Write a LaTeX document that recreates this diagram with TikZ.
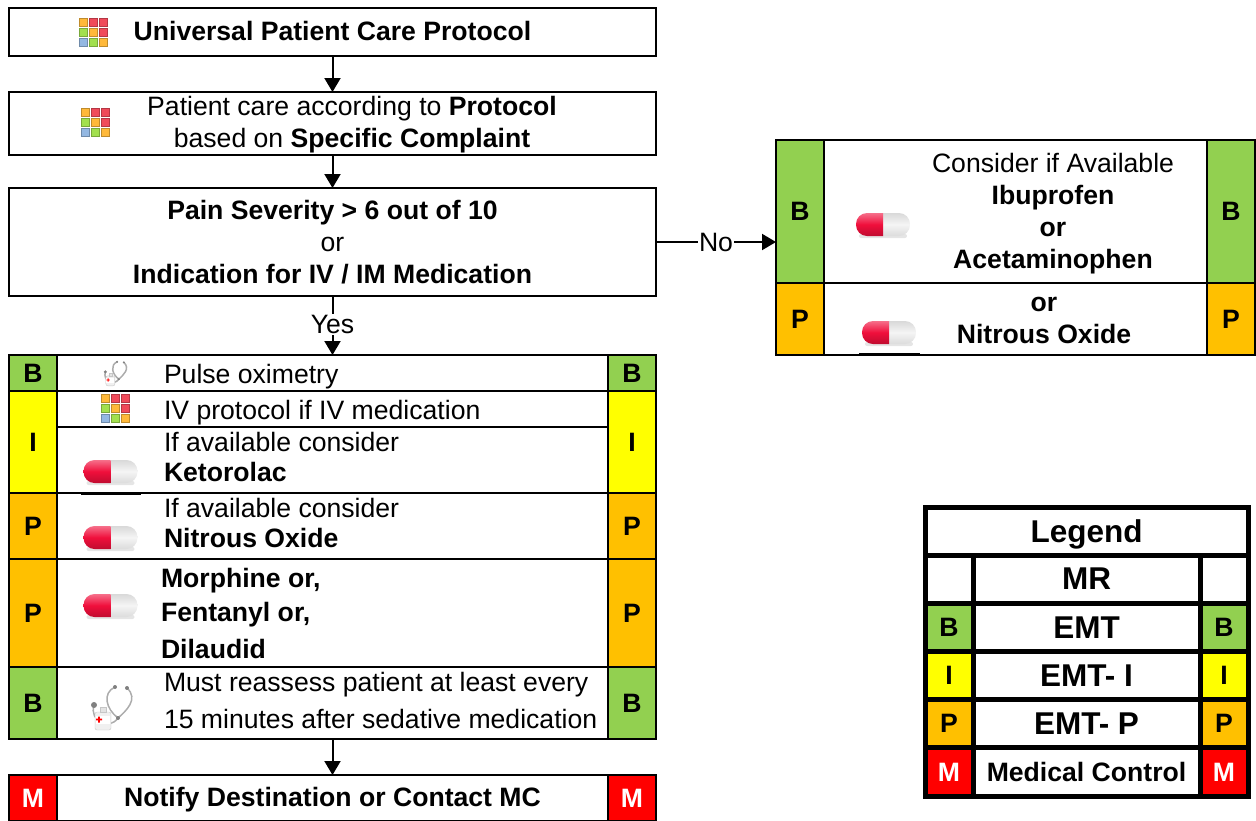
\documentclass[tikz,border=0pt]{standalone}
\usepackage{fontspec}
\setmainfont{Liberation Sans}
\usetikzlibrary{shapes,positioning,arrows.meta}

\newcommand{\bodyfont}{\fontsize{26.6}{30}\selectfont}
\newcommand{\legendfont}{\fontsize{31.5}{36}\selectfont\bfseries}

\definecolor{emtgreen}{HTML}{92D050}
\definecolor{emtyellow}{HTML}{FFFF00}
\definecolor{emtorange}{HTML}{FFC000}
\definecolor{emtred}{HTML}{FF0000}
\definecolor{gridorange}{HTML}{FFB93A}
\definecolor{gridred}{HTML}{F04A5A}
\definecolor{gridgreen}{HTML}{A2E04E}
\definecolor{gridblue}{HTML}{94B8E2}
\definecolor{pillred}{HTML}{F00F3C}

\tikzset{
    block/.style={draw, rectangle, line width=2pt, outer sep=0, inner sep=0,
        font=\bodyfont, align=center},
    tagbox/.style={block, fill=#1, minimum width=48pt, font=\bodyfont\bfseries},
    label/.style={inner sep=0, outer sep=0, font=\bodyfont, align=left},
    flow/.style={-{Triangle[length=14pt,width=16pt]}, line width=2pt},
    legendcell/.style={block, line width=5pt, minimum width=227pt, minimum height=48.2pt,
        font=\legendfont},
    legendtag/.style={block, line width=5pt, fill=#1, minimum width=48pt, minimum height=48.2pt,
        font=\bodyfont\bfseries},
    gridcell/.style={draw=#1!75!black, fill=#1, line width=0.8pt},
    pics/gridicon/.style={code={
        \path[gridcell=gridorange] (-14,-14) rectangle +(8,8);
        \path[gridcell=gridred] (-4,-14) rectangle +(8,8);
        \path[gridcell=gridred] (6,-14) rectangle +(8,8);
        \path[gridcell=gridgreen] (-14,-4) rectangle +(8,8);
        \path[gridcell=gridorange] (-4,-4) rectangle +(8,8);
        \path[gridcell=gridred] (6,-4) rectangle +(8,8);
        \path[gridcell=gridblue] (-14,6) rectangle +(8,8);
        \path[gridcell=gridgreen] (-4,6) rectangle +(8,8);
        \path[gridcell=gridorange] (6,6) rectangle +(8,8);
    }},
    pics/pill/.style={code={
        \fill[black!10, rounded corners=2pt] (-24,9) rectangle (24,13);
        \begin{scope}
            \clip[rounded corners=11pt] (-27,-12) rectangle (27,11);
            \shade[top color=gray!30, bottom color=gray!28, middle color=gray!8] (0,-12) rectangle (27,11);
            \shade[top color=pillred!60!white, bottom color=pillred!80!black, middle color=pillred] (-27,-12) rectangle (0,11);
        \end{scope}
    }},
    pics/stetho/.style={code={
        \draw[gray!65, line width=1.5pt] (2,-20) .. controls (-11,-14) and (-7,2) .. (5,11)
            .. controls (13,4) and (26,-8) .. (14,-19);
        \draw[gray!65, line width=1.5pt] (5,11) .. controls (-4,24) and (-24,14) .. (-19,-2);
        \fill[gray] (2,-20) circle (2pt) (14,-19) circle (2pt) (-19,-2) circle (3pt) (5,11) circle (2pt);
        \draw[gray!45, fill=gray!12, rounded corners=2pt] (-18,5) rectangle (-2,23);
        \draw[gray!45, fill=gray!22] (-13,0) rectangle (-7,5);
        \fill[white] (-17,9) rectangle (-3,17);
        \fill[red] (-17,11.7) rectangle (-11,13.3) (-14.8,9.5) rectangle (-13.2,15.5);
    }}
}

\begin{document}
\begin{tikzpicture}[x=1pt,y=-1pt,font=\bodyfont]

\useasboundingbox (0,0) rectangle (1256,820);

% Top blocks
\node[block,
    minimum width=647pt,
    minimum height=48pt] (block1) at (332.5,32) {\raisebox{1pt}[\height][\depth]{\textbf{Universal Patient Care Protocol}}};

\node[block,
    below=36pt of block1,
    minimum width=647pt,
    minimum height=63pt] (block2) {};

\node[block,
    below=33pt of block2,
    minimum width=647pt,
    minimum height=108pt] (block3) {\textbf{Pain Severity > 6 out of 10}\\[2pt]or\\[2pt]\textbf{Indication for IV / IM Medication}};

\node[label, align=center] (block2text) at (352,125) {Patient care according to \textbf{Protocol}\\[2pt]based on \textbf{Specific Complaint}};

% Treatment rows
\node[block,
    below=59pt of block3,
    minimum width=551pt,
    minimum height=36pt] (row1) {};

\node[block,
    below=0pt of row1,
    minimum width=551pt,
    minimum height=36pt] (row2) {};

\node[block,
    below=0pt of row2,
    minimum width=551pt,
    minimum height=66pt] (row3) {};

\node[block,
    below=0pt of row3,
    minimum width=551pt,
    minimum height=66pt] (row4) {};

\node[block,
    below=0pt of row4,
    minimum width=551pt,
    minimum height=108pt] (row5) {};

\node[block,
    below=0pt of row5,
    minimum width=551pt,
    minimum height=72pt] (row6) {};

\node[block,
    below=36pt of row6,
    minimum width=551pt,
    minimum height=46pt] (row7) {\raisebox{-2pt}[\height][\depth]{\textbf{Notify Destination or Contact MC}}};

% Provider tags
\node[tagbox=emtgreen, minimum height=36pt, left=0pt of row1] (tag1l) {B};
\node[tagbox=emtgreen, minimum height=36pt, right=0pt of row1] (tag1r) {B};
\node[tagbox=emtyellow, minimum height=102pt, anchor=north east] (tag2l) at (row2.north west) {I};
\node[tagbox=emtyellow, minimum height=102pt, anchor=north west] (tag2r) at (row2.north east) {I};
\node[tagbox=emtorange, minimum height=66pt, left=0pt of row4] (tag3l) {P};
\node[tagbox=emtorange, minimum height=66pt, right=0pt of row4] (tag3r) {P};
\node[tagbox=emtorange, minimum height=108pt, left=0pt of row5] (tag4l) {P};
\node[tagbox=emtorange, minimum height=108pt, right=0pt of row5] (tag4r) {P};
\node[tagbox=emtgreen, minimum height=72pt, left=0pt of row6] (tag5l) {B};
\node[tagbox=emtgreen, minimum height=72pt, right=0pt of row6] (tag5r) {B};
\node[tagbox=emtred, text=white, minimum height=46pt, left=0pt of row7] (tag6l) {M};
\node[tagbox=emtred, text=white, minimum height=46pt, right=0pt of row7] (tag6r) {M};

% Row texts
\node[label, anchor=west] (pulse) at (164,376.5) {Pulse oximetry};
\node[label, anchor=west] (ivtext) at (164,412.5) {IV protocol if IV medication};
\node[label, anchor=west] (keto) at (164,457) {If available consider\\\textbf{Ketorolac}};
\node[label, anchor=west] (nitrous) at (164,523) {If available consider\\\textbf{Nitrous Oxide}};
\node[label, anchor=west] (morphine) at (161,613) {\textbf{Morphine or,}\\[4pt]\textbf{Fentanyl or,}\\[7pt]\textbf{Dilaudid}};
\node[label, anchor=west] (reassess) at (164,700) {Must reassess patient at least every\\[7pt]15 minutes after sedative medication};

% Right table
\node[block,
    minimum width=383pt,
    minimum height=143pt] (side1) at (1015.5,211.5) {};

\node[block,
    below=0pt of side1,
    minimum width=383pt,
    minimum height=72pt] (side2) {};

\node[tagbox=emtgreen, minimum height=143pt, left=0pt of side1] (stag1l) {B};
\node[tagbox=emtgreen, minimum height=143pt, right=0pt of side1] (stag1r) {B};
\node[tagbox=emtorange, minimum height=72pt, left=0pt of side2] (stag2l) {P};
\node[tagbox=emtorange, minimum height=72pt, right=0pt of side2] (stag2r) {P};

\node[label, align=center] (sidetext1) at (1053,214) {Consider if Available\\[2pt]\textbf{Ibuprofen}\\[2pt]\textbf{or}\\[2pt]\textbf{Acetaminophen}};
\node[label, align=center] (sidetext2) at (1044,320) {\textbf{or}\\[2pt]\textbf{Nitrous Oxide}};

% Icons
\pic at (93,32) {gridicon};
\pic at (95,122) {gridicon};
\pic at (115,408) {gridicon};
\pic[scale=0.56] at (116,373) {stetho};
\pic at (113,707) {stetho};
\pic at (110.5,472) {pill};
\pic at (110.5,538) {pill};
\pic at (110.5,606) {pill};
\pic at (883,225) {pill};
\pic at (889,333) {pill};
\draw[line width=3pt] (81,493) -- (141,493);
\draw[line width=3pt] (859,354.5) -- (920,354.5);

% Arrows
\draw[flow] (block1) -- (block2);
\draw[flow] (block2) -- (block3);
\draw[flow] (block3) -- node[fill=white,inner sep=1pt,yshift=1pt]{Yes} (row1);
\draw[flow] (block3.east) -- node[fill=white,inner sep=1pt]{No} (block3.east -| stag1l.west);
\draw[flow] (row6) -- (row7);

% Legend
\node[block, line width=5pt,
    minimum width=323pt,
    minimum height=48pt,
    font=\legendfont] (legend) at (1086.5,531) {\raisebox{-3pt}[\height][\depth]{Legend}};

\node[legendcell, below=0pt of legend] (legend1) {MR};
\node[legendcell, below=0pt of legend1] (legend2) {EMT};
\node[legendcell, below=0pt of legend2] (legend3) {EMT- I};
\node[legendcell, below=0pt of legend3] (legend4) {EMT- P};
\node[legendcell, below=0pt of legend4, font=\bodyfont\bfseries] (legend5) {Medical Control};

\node[legendtag=white, left=0pt of legend1] (ltag1l) {};
\node[legendtag=white, right=0pt of legend1] (ltag1r) {};
\node[legendtag=emtgreen, left=0pt of legend2] (ltag2l) {B};
\node[legendtag=emtgreen, right=0pt of legend2] (ltag2r) {B};
\node[legendtag=emtyellow, left=0pt of legend3] (ltag3l) {I};
\node[legendtag=emtyellow, right=0pt of legend3] (ltag3r) {I};
\node[legendtag=emtorange, left=0pt of legend4] (ltag4l) {P};
\node[legendtag=emtorange, right=0pt of legend4] (ltag4r) {P};
\node[legendtag=emtred, text=white, left=0pt of legend5] (ltag5l) {M};
\node[legendtag=emtred, text=white, right=0pt of legend5] (ltag5r) {M};

\end{tikzpicture}
\end{document}
